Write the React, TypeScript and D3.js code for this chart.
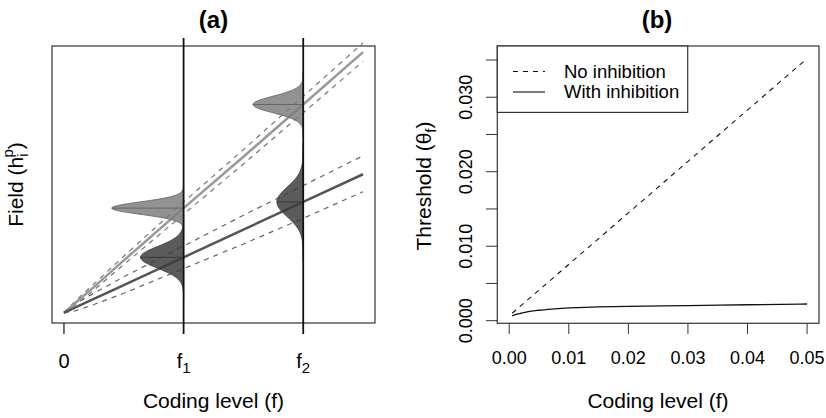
import React from "react";
import * as d3 from "d3";

// panel (a): field vs coding level
const fA = [0, 0.1, 0.25, 0.5, 1, 1.5, 2, 2.5];
const lightMean = [0, 0.1, 0.25, 0.51, 1.02, 1.52, 2.03, 2.54];
const lightUpper = [0, 0.12, 0.28, 0.55, 1.08, 1.59, 2.11, 2.63];
const lightLower = [0, 0.08, 0.22, 0.47, 0.96, 1.45, 1.95, 2.45];
const darkMean = [0, 0.054, 0.135, 0.27, 0.54, 0.81, 1.08, 1.35];
const darkUpper = [0, 0.09, 0.19, 0.35, 0.65, 0.95, 1.24, 1.53];
const darkLower = [0, 0.02, 0.08, 0.19, 0.43, 0.67, 0.92, 1.18];

// distributions drawn at f1 and f2
const gaussF = [1, 1, 2, 2];
const gaussMean = [1.02, 0.54, 2.03, 1.08];
const gaussSd = [0.06, 0.105, 0.08, 0.145];
const gaussPeak = [0.6, 0.36, 0.42, 0.22];
const gaussTone = ["light", "dark", "light", "dark"];

const ticksA = [0, 1, 2];
const tickLabelsA = ["0", "f", "f"];
const tickSubsA = ["", "1", "2"];

// panel (b): threshold vs coding level
const noInhF = [0.0005, 0.05];
const noInhT = [0.001, 0.0352];
const withInhF = [0.0005, 0.001, 0.002, 0.003, 0.005, 0.0075, 0.01, 0.015, 0.02, 0.03, 0.04, 0.05];
const withInhT = [0.00065, 0.0008, 0.001, 0.00118, 0.0014, 0.00158, 0.00172, 0.00185, 0.00193, 0.00202, 0.00214, 0.00224];
const xTicksB = [0, 0.01, 0.02, 0.03, 0.04, 0.05];
const yTicksB = [0, 0.005, 0.01, 0.015, 0.02, 0.025, 0.03, 0.035];
const legendLabels = ["No inhibition", "With inhibition"];

const font = "'Liberation Sans', Arial, Helvetica, sans-serif";

function PanelA() {
  var x = d3.scaleLinear().domain([-0.1, 2.6]).range([52, 375]);
  var y = d3.scaleLinear().domain([-0.1, 2.6]).range([323, 46]);
  var line = (ys: number[]) =>
    d3.line<number>()
      .x((d, i) => x(fA[i]))
      .y((d) => y(d))(ys) || "";

  var gauss = gaussF.map((f, k) => {
    var zs = d3.range(-4, 4.001, 0.05);
    var area = d3.area<number>()
      .y((z) => y(gaussMean[k] + z * gaussSd[k]))
      .x0(x(f))
      .x1((z) => x(f - gaussPeak[k] * Math.exp(-0.5 * z * z)));
    var light = gaussTone[k] === "light";
    return (
      <g key={"g" + k}>
        <path d={area(zs) || ""} fill={light ? "#7a7a7a" : "#3c3c3c"} fillOpacity={light ? 0.82 : 0.84}
          stroke={light ? "#6e6e6e" : "#444"} strokeWidth={1} />
        <line x1={x(f - gaussPeak[k])} x2={x(f)} y1={y(gaussMean[k])} y2={y(gaussMean[k])}
          stroke={light ? "#666" : "#3a3a3a"} strokeWidth={1} />
      </g>
    );
  });

  return (
    <g>
      <text x={213.5} y={28} textAnchor="middle" fontWeight="bold" fontSize={24} fontFamily={font}>(a)</text>
      {/* lines */}
      <path d={line(lightUpper)} fill="none" stroke="#777" strokeWidth={1.2} strokeDasharray="5,5" />
      <path d={line(lightLower)} fill="none" stroke="#777" strokeWidth={1.2} strokeDasharray="5,5" />
      <path d={line(darkUpper)} fill="none" stroke="#666" strokeWidth={1.2} strokeDasharray="5,5" />
      <path d={line(darkLower)} fill="none" stroke="#666" strokeWidth={1.2} strokeDasharray="5,5" />
      <path d={line(lightMean)} fill="none" stroke="#999" strokeWidth={2.5} />
      <path d={line(darkMean)} fill="none" stroke="#555" strokeWidth={2.5} />
      {gauss}
      <rect x={52} y={46} width={323} height={277} fill="none" stroke="#333" strokeWidth={1.2} />
      {ticksA.map((t, i) => (
        <g key={"t" + i}>
          <line x1={x(t)} x2={x(t)} y1={i === 0 ? 323 : 38} y2={334} stroke="#111" strokeWidth={i === 0 ? 1.2 : 1.8} />
          <text x={x(t)} y={368} textAnchor="middle" fontSize={20} fontFamily={font}>
            {tickLabelsA[i]}
            {tickSubsA[i] ? <tspan fontSize={15} dy={5}>{tickSubsA[i]}</tspan> : null}
          </text>
        </g>
      ))}
      <text x={213.5} y={408} textAnchor="middle" fontSize={21} fontFamily={font}>Coding level (f)</text>
      <text transform={"translate(23," + 184.5 + ") rotate(-90)"} textAnchor="middle" fontSize={21} fontFamily={font}>
        Field (h<tspan fontSize={15} dy={5}>i</tspan><tspan fontSize={15} dx={-4} dy={-15}>p</tspan><tspan dy={10}>)</tspan>
      </text>
    </g>
  );
}

function PanelB() {
  var x = d3.scaleLinear().domain([-0.002, 0.052]).range([497.3, 819]);
  var y = d3.scaleLinear().domain([-0.00035, 0.03688]).range([323.3, 46]);
  var noInh = d3.line<number>().x((d, i) => x(noInhF[i])).y((d) => y(d))(noInhT) || "";
  var withInh = d3.line<number>().x((d, i) => x(withInhF[i])).y((d) => y(d)).curve(d3.curveMonotoneX)(withInhT) || "";

  return (
    <g>
      <text x={657} y={28} textAnchor="middle" fontWeight="bold" fontSize={24} fontFamily={font}>(b)</text>
      <path d={noInh} fill="none" stroke="#111" strokeWidth={1.1} strokeDasharray="5,5" />
      <path d={withInh} fill="none" stroke="#111" strokeWidth={1.3} />
      <rect x={497.3} y={46} width={321.7} height={277.3} fill="none" stroke="#333" strokeWidth={1.2} />
      {/* legend */}
      <rect x={497.3} y={46} width={190.4} height={66.4} fill="white" stroke="#333" strokeWidth={1.2} />
      {legendLabels.map((l, i) => (
        <g key={"l" + i}>
          <line x1={513} x2={545} y1={71.5 + i * 20.5} y2={71.5 + i * 20.5} stroke="#111" strokeWidth={1.1}
            strokeDasharray={i === 0 ? "5,5" : undefined} />
          <text x={564} y={77.5 + i * 20.5} fontSize={18.5} fontFamily={font}>{l}</text>
        </g>
      ))}
      {xTicksB.map((t, i) => (
        <g key={"x" + i}>
          <line x1={x(t)} x2={x(t)} y1={323.3} y2={334} stroke="#333" strokeWidth={1} />
          <text x={x(t)} y={364} textAnchor="middle" fontSize={18} fontFamily={font}>{d3.format(".2f")(t)}</text>
        </g>
      ))}
      {yTicksB.map((t, i) => (
        <g key={"y" + i}>
          <line x1={486} x2={497.3} y1={y(t)} y2={y(t)} stroke="#333" strokeWidth={1} />
          {i % 2 === 0 ? (
            <text transform={"translate(472," + y(t) + ") rotate(-90)"} textAnchor="middle" fontSize={18} fontFamily={font}>
              {d3.format(".3f")(t)}
            </text>
          ) : null}
        </g>
      ))}
      <text x={658} y={408} textAnchor="middle" fontSize={21} fontFamily={font}>Coding level (f)</text>
      <text transform={"translate(431," + 186 + ") rotate(-90)"} textAnchor="middle" fontSize={21} fontFamily={font}>
        Threshold (θ<tspan fontSize={15} dy={5}>f</tspan><tspan dy={-5}>)</tspan>
      </text>
    </g>
  );
}

export default function App() {
  return (
    <svg width={826} height={418} style={{ position: "absolute", left: 0, top: 0, background: "white" }}>
      <rect width={826} height={418} fill="white" />
      <PanelA />
      <PanelB />
    </svg>
  );
}
